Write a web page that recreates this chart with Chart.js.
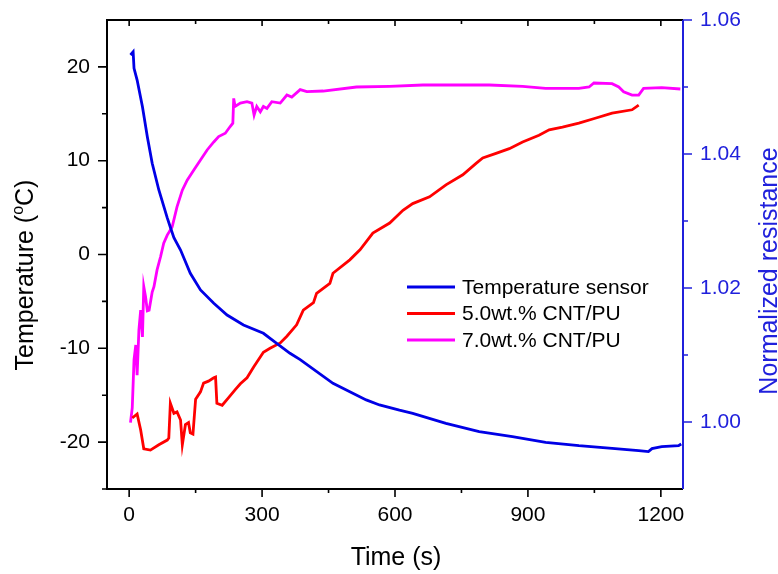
<!DOCTYPE html>
<html><head><meta charset="utf-8">
<script src="https://cdn.jsdelivr.net/npm/chart.js@4"></script>
<style>html,body{margin:0;padding:0;background:#fff;}#wrap{width:778px;height:574px;}</style>
</head><body><div id="wrap"><canvas id="c" width="778" height="574"></canvas></div>
<script>
// ---- data ----
const xTickValues = [0, 300, 600, 900, 1200];
const xMinorTicks = [150, 450, 750, 1050];
const tempTickValues = [-20, -10, 0, 10, 20];
const tempMinorTicks = [-25, -15, -5, 5, 15];
const resTickValues = [1.00, 1.02, 1.04, 1.06];
const resMinorTicks = [1.01, 1.03, 1.05];

const seriesLabels = ['Temperature sensor', '5.0wt.% CNT/PU', '7.0wt.% CNT/PU'];

// Temperature sensor (°C, left axis)
const tempTime = [3,9,11,18,30,41,52,67,86,93,101,116,138,161,191,221,258,303,333,363,386,460,535,565,610,640,715,790,865,940,1015,1090,1150,1172,1180,1202,1240,1246];
const tempValues = [21.27,21.6,19.85,18.6,15.76,12.56,9.72,6.88,3.9,2.9,1.8,0.48,-2.0,-3.78,-5.2,-6.45,-7.52,-8.4,-9.47,-10.53,-11.2,-13.73,-15.5,-16.04,-16.6,-16.93,-18.0,-18.89,-19.42,-20.02,-20.38,-20.66,-20.92,-21.02,-20.7,-20.49,-20.38,-20.2];

// 5.0wt.% CNT/PU (normalized resistance, right axis)
const cnt5Time = [7,18,26,33,48,67,86,89.5,93,101,108,116,120,127,134,138,144,150,161,168,179,191,195,198,210,224,239,251,266,281,303,318,341,356,378,393,416,423,453,460,498,521,550,588,618,640,678,715,753,783,798,828,858,888,925,948,978,1015,1050,1090,1135,1150];
const cnt5Values = [1.0006,1.0012,0.9988,0.9960,0.9958,0.9966,0.9973,0.9976,1.0028,1.0013,1.0015,1.0003,0.9966,0.9996,0.9999,0.9984,0.9982,1.0034,1.0045,1.0058,1.0061,1.0066,1.0067,1.0028,1.0025,1.0036,1.0048,1.0057,1.0066,1.0082,1.0104,1.0110,1.0118,1.0128,1.0145,1.0167,1.0178,1.0192,1.0207,1.0222,1.0242,1.0257,1.0282,1.0297,1.0316,1.0326,1.0336,1.0354,1.0369,1.0386,1.0394,1.0401,1.0408,1.0418,1.0428,1.0436,1.0440,1.0446,1.0453,1.0461,1.0466,1.0473];

// 7.0wt.% CNT/PU (normalized resistance, right axis)
const cnt7Time = [3,7,11,15,18,22,26,30,33,37,41,45,52,56,63,71,78,86,97,108,120,131,146,161,176,191,202,217,228,234,236,239,251,266,277,282,288,296,303,311,322,341,356,367,386,401,438,513,588,663,738,813,888,940,1015,1038,1049,1090,1105,1116,1135,1150,1161,1202,1244];
const cnt7Values = [0.9999,1.0021,1.0093,1.0115,1.0070,1.0137,1.0167,1.0127,1.0202,1.0187,1.0166,1.0167,1.0194,1.0202,1.0227,1.0247,1.0267,1.0279,1.0291,1.0321,1.0346,1.0361,1.0376,1.0391,1.0406,1.0418,1.0426,1.0431,1.0441,1.0446,1.0483,1.0471,1.0476,1.0478,1.0476,1.0458,1.0471,1.0463,1.0471,1.0468,1.0478,1.0476,1.0488,1.0485,1.0496,1.0493,1.0494,1.0500,1.0501,1.0503,1.0503,1.0503,1.0501,1.0498,1.0498,1.0500,1.0506,1.0505,1.0500,1.0493,1.0488,1.0488,1.0498,1.0499,1.0497];

// ---- styling ----
const FONT = "'Liberation Sans', Arial, sans-serif";
const BLUE = '#0000e6';
const RED = '#ff0000';
const MAGENTA = '#ff00ff';
const AXIS_BLUE = '#2020dc';
const colors = [BLUE, RED, MAGENTA];

const toPts = (xs, ys) => xs.map((x, i) => ({x: x, y: ys[i]}));

const setTicks = arr => scale => { scale.ticks = arr.map(v => ({value: v})); };
const fixSize = (w, h) => s => {
  if (w !== null) s.width = w;
  if (h !== null) s.height = h;
  s.paddingTop = 0; s.paddingBottom = 0; s.paddingLeft = 0; s.paddingRight = 0;
};

const decorPlugin = {
  id: 'decor',
  afterDraw(chart) {
    const ctx = chart.ctx;
    const a = chart.chartArea;
    const sx = chart.scales.x, sl = chart.scales.yT, sr = chart.scales.yR;
    ctx.save();
    ctx.lineCap = 'butt';
    // frame
    ctx.lineWidth = 2;
    ctx.strokeStyle = '#000';
    ctx.beginPath();
    ctx.moveTo(a.right, a.top); ctx.lineTo(a.left, a.top); ctx.lineTo(a.left, a.bottom); ctx.lineTo(a.right, a.bottom);
    ctx.stroke();
    // ticks
    ctx.lineWidth = 1.6;
    ctx.beginPath();
    xTickValues.forEach(v => { const p = sx.getPixelForValue(v); ctx.moveTo(p, a.bottom); ctx.lineTo(p, a.bottom + 8); ctx.moveTo(p, a.top); ctx.lineTo(p, a.top + 6); });
    xMinorTicks.forEach(v => { const p = sx.getPixelForValue(v); ctx.moveTo(p, a.bottom); ctx.lineTo(p, a.bottom + 4); ctx.moveTo(p, a.top); ctx.lineTo(p, a.top + 4); });
    tempTickValues.forEach(v => { const p = sl.getPixelForValue(v); ctx.moveTo(a.left, p); ctx.lineTo(a.left - 9, p); });
    tempMinorTicks.forEach(v => { const p = sl.getPixelForValue(v); ctx.moveTo(a.left, p); ctx.lineTo(a.left - 5, p); });
    ctx.stroke();
    // right axis
    ctx.strokeStyle = AXIS_BLUE;
    ctx.lineWidth = 2;
    ctx.beginPath(); ctx.moveTo(a.right, a.top); ctx.lineTo(a.right, a.bottom); ctx.stroke();
    ctx.lineWidth = 1.6;
    ctx.beginPath();
    resTickValues.forEach(v => { const p = sr.getPixelForValue(v); ctx.moveTo(a.right, p); ctx.lineTo(a.right + 9, p); });
    resMinorTicks.forEach(v => { const p = sr.getPixelForValue(v); ctx.moveTo(a.right, p); ctx.lineTo(a.right + 5, p); });
    ctx.stroke();

    // axis titles
    ctx.fillStyle = '#000';
    ctx.font = '25px ' + FONT;
    ctx.textAlign = 'center';
    ctx.textBaseline = 'alphabetic';
    ctx.fillText('Time (s)', 396, 565);

    // left title with superscript o
    const p1 = 'Temperature (', p2 = 'o', p3 = 'C)';
    ctx.font = '25px ' + FONT; const w1 = ctx.measureText(p1).width, w3 = ctx.measureText(p3).width;
    ctx.font = '16px ' + FONT; const w2 = ctx.measureText(p2).width;
    const tot = w1 + w2 + w3;
    ctx.save();
    ctx.translate(33, 275);
    ctx.rotate(-Math.PI / 2);
    ctx.textAlign = 'left';
    let x0 = -tot / 2;
    ctx.font = '25px ' + FONT; ctx.fillText(p1, x0, 0);
    ctx.font = '16px ' + FONT; ctx.fillText(p2, x0 + w1, -10);
    ctx.font = '25px ' + FONT; ctx.fillText(p3, x0 + w1 + w2, 0);
    ctx.restore();

    // right title
    ctx.save();
    ctx.translate(777, 271);
    ctx.rotate(-Math.PI / 2);
    ctx.fillStyle = AXIS_BLUE;
    ctx.font = '25px ' + FONT;
    ctx.textAlign = 'center';
    ctx.fillText('Normalized resistance', 0, 0);
    ctx.restore();

    // legend
    ctx.font = '21px ' + FONT;
    ctx.textAlign = 'left';
    ctx.textBaseline = 'middle';
    const rows = [287, 313.5, 340];
    chart.data.datasets.forEach((ds, i) => {
      const y = rows[i];
      ctx.strokeStyle = ds.borderColor;
      ctx.lineWidth = 3;
      ctx.beginPath(); ctx.moveTo(407, y); ctx.lineTo(455, y); ctx.stroke();
      ctx.fillStyle = '#000';
      ctx.fillText(ds.label, 462, y + 1);
    });
    ctx.restore();
  }
};

new Chart(document.getElementById('c').getContext('2d'), {
  type: 'line',
  data: {
    datasets: [
      {label: seriesLabels[0], data: toPts(tempTime, tempValues), yAxisID: 'yT', borderColor: colors[0]},
      {label: seriesLabels[1], data: toPts(cnt5Time, cnt5Values), yAxisID: 'yR', borderColor: colors[1]},
      {label: seriesLabels[2], data: toPts(cnt7Time, cnt7Values), yAxisID: 'yR', borderColor: colors[2]}
    ]
  },
  options: {
    responsive: false,
    animation: false,
    devicePixelRatio: 1,
    layout: {padding: {top: 20, left: 0, right: 0, bottom: 0}},
    elements: {line: {borderWidth: 2.8, tension: 0, fill: false}, point: {radius: 0}},
    plugins: {legend: {display: false}, tooltip: {enabled: false}},
    scales: {
      x: {
        type: 'linear', min: -50, max: 1250,
        afterBuildTicks: setTicks(xTickValues),
        afterFit: fixSize(null, 85),
        grid: {display: false, drawTicks: false}, border: {display: false},
        ticks: {font: {family: FONT, size: 21}, color: '#000', padding: 14, maxRotation: 0, autoSkip: false, callback: v => String(v)}
      },
      yT: {
        type: 'linear', position: 'left', min: -25, max: 25,
        afterBuildTicks: setTicks(tempTickValues),
        afterFit: fixSize(107, null),
        grid: {display: false, drawTicks: false}, border: {display: false},
        ticks: {font: {family: FONT, size: 21}, color: '#000', padding: 17, autoSkip: false, callback: v => String(v)}
      },
      yR: {
        type: 'linear', position: 'right', min: 0.99, max: 1.06,
        afterBuildTicks: setTicks(resTickValues),
        afterFit: fixSize(95, null),
        grid: {display: false, drawTicks: false}, border: {display: false},
        ticks: {font: {family: FONT, size: 21}, color: AXIS_BLUE, padding: 17, autoSkip: false, callback: v => Number(v).toFixed(2)}
      }
    }
  },
  plugins: [decorPlugin]
});
</script>
</body></html>
